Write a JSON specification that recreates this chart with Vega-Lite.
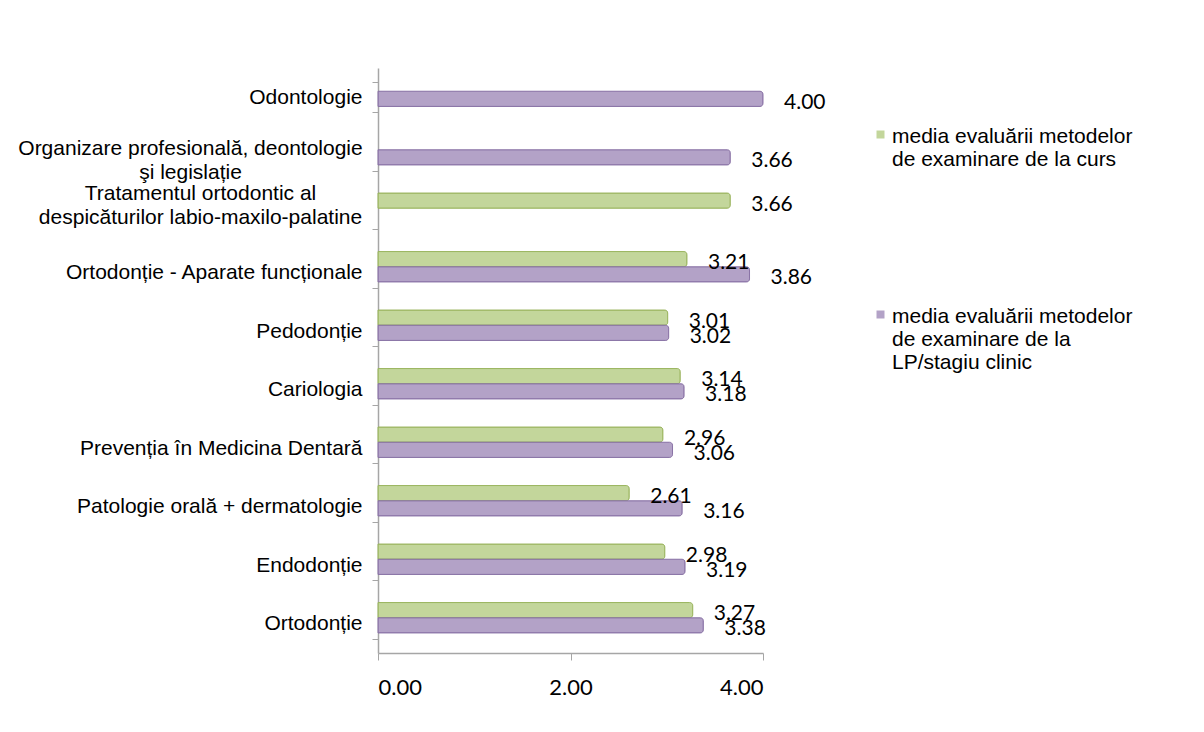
{
  "$schema": "https://vega.github.io/schema/vega-lite/v6.json",
  "width": 385,
  "height": 585,
  "autosize": {"type": "none"},
  "padding": {"left": 378, "top": 68, "right": 441, "bottom": 79},
  "background": "white",
  "config": {"view": {"stroke": null}},
  "data": {
    "values": [
      {"materie": "Odontologie", "serie": "curs", "valoare": null},
      {"materie": "Odontologie", "serie": "LP", "valoare": 4.00},
      {"materie": "Organizare profesională, deontologie|şi legislație", "serie": "curs", "valoare": null},
      {"materie": "Organizare profesională, deontologie|şi legislație", "serie": "LP", "valoare": 3.66},
      {"materie": "Tratamentul ortodontic al|despicăturilor labio-maxilo-palatine", "serie": "curs", "valoare": 3.66},
      {"materie": "Tratamentul ortodontic al|despicăturilor labio-maxilo-palatine", "serie": "LP", "valoare": null},
      {"materie": "Ortodonție - Aparate funcționale", "serie": "curs", "valoare": 3.21},
      {"materie": "Ortodonție - Aparate funcționale", "serie": "LP", "valoare": 3.86},
      {"materie": "Pedodonție", "serie": "curs", "valoare": 3.01},
      {"materie": "Pedodonție", "serie": "LP", "valoare": 3.02},
      {"materie": "Cariologia", "serie": "curs", "valoare": 3.14},
      {"materie": "Cariologia", "serie": "LP", "valoare": 3.18},
      {"materie": "Prevenția în Medicina Dentară", "serie": "curs", "valoare": 2.96},
      {"materie": "Prevenția în Medicina Dentară", "serie": "LP", "valoare": 3.06},
      {"materie": "Patologie orală + dermatologie", "serie": "curs", "valoare": 2.61},
      {"materie": "Patologie orală + dermatologie", "serie": "LP", "valoare": 3.16},
      {"materie": "Endodonție", "serie": "curs", "valoare": 2.98},
      {"materie": "Endodonție", "serie": "LP", "valoare": 3.19},
      {"materie": "Ortodonție", "serie": "curs", "valoare": 3.27},
      {"materie": "Ortodonție", "serie": "LP", "valoare": 3.38}
    ]
  },
  "encoding": {
    "y": {
      "field": "materie",
      "type": "nominal",
      "sort": null,
      "scale": {"paddingInner": 0.48, "paddingOuter": 0.24},
      "axis": {
        "title": null,
        "labelExpr": "split(datum.label, '|')",
        "labelFont": "Liberation Sans",
        "labelFontSize": 21,
        "labelColor": "#000000",
        "labelLimit": 400,
        "labelAlign": {"condition": {"test": "indexof(datum.label, '|') >= 0", "value": "center"}, "value": "right"},
        "labelPadding": {"condition": [
          {"test": "indexof(datum.label, 'Organizare') >= 0", "value": 182},
          {"test": "indexof(datum.label, 'Tratamentul') >= 0", "value": 172}
        ], "value": 10},
        "labelOffset": {"condition": [
          {"test": "indexof(datum.label, 'Organizare') >= 0", "value": -7},
          {"test": "indexof(datum.label, 'Tratamentul') >= 0", "value": -21}
        ], "value": 0},
        "labelLineHeight": 24,
        "tickBand": "extent",
        "tickSize": 6,
        "tickColor": "#a6a6a6",
        "domainColor": "#a6a6a6",
        "domainWidth": 1.5
      }
    },
    "yOffset": {
      "field": "serie",
      "type": "nominal",
      "sort": ["curs", "LP"],
      "scale": {"paddingInner": 0, "paddingOuter": 0, "range": [-6, 24.4]}
    },
    "x": {
      "field": "valoare",
      "type": "quantitative",
      "scale": {"domain": [0, 4], "nice": false},
      "axis": {
        "title": null,
        "values": [0, 2, 4],
        "format": ".2f",
        "grid": false,
        "labelFont": "Lato",
        "labelFontSize": 22,
        "labelColor": "#000000",
        "labelPadding": 17,
        "tickSize": 7,
        "tickColor": "#a6a6a6",
        "domainColor": "#a6a6a6",
        "domainWidth": 1.5
      }
    }
  },
  "layer": [
    {
      "transform": [{"filter": "datum.valoare != null"}],
      "mark": {"type": "bar", "cornerRadiusEnd": 3, "strokeWidth": 1},
      "encoding": {
        "color": {
          "field": "serie",
          "type": "nominal",
          "sort": ["curs", "LP"],
          "scale": {"domain": ["curs", "LP"], "range": ["#c3d69b", "#b3a2c7"]},
          "legend": {
            "title": null,
            "orient": "none",
            "legendX": 492,
            "legendY": 47,
            "direction": "vertical",
            "symbolType": "M-1,1.25H1V3.25H-1Z",
            "symbolSize": 64,
            "symbolStrokeWidth": 0,
            "labelFont": "Liberation Sans",
            "labelFontSize": 21,
            "labelColor": "#000000",
            "labelLimit": 400,
            "labelLineHeight": 27,
            "labelBaseline": "top",
            "labelOffset": 1,
            "rowPadding": 125,
            "labelExpr": "datum.label == 'curs' ? ['media evaluării metodelor', 'de examinare de la curs'] : ['media evaluării metodelor', 'de examinare de la', 'LP/stagiu clinic']"
          }
        },
        "stroke": {
          "field": "serie",
          "type": "nominal",
          "scale": {"domain": ["curs", "LP"], "range": ["#9bb55f", "#8a73a6"]},
          "legend": null
        }
      }
    },
    {
      "transform": [{"filter": "datum.valoare != null"}],
      "mark": {"type": "text", "align": "left", "baseline": "middle", "dx": 21, "dy": 4, "font": "Lato", "fontSize": 21, "color": "#000000"},
      "encoding": {
        "text": {"field": "valoare", "type": "quantitative", "format": ".2f"}
      }
    }
  ]
}
